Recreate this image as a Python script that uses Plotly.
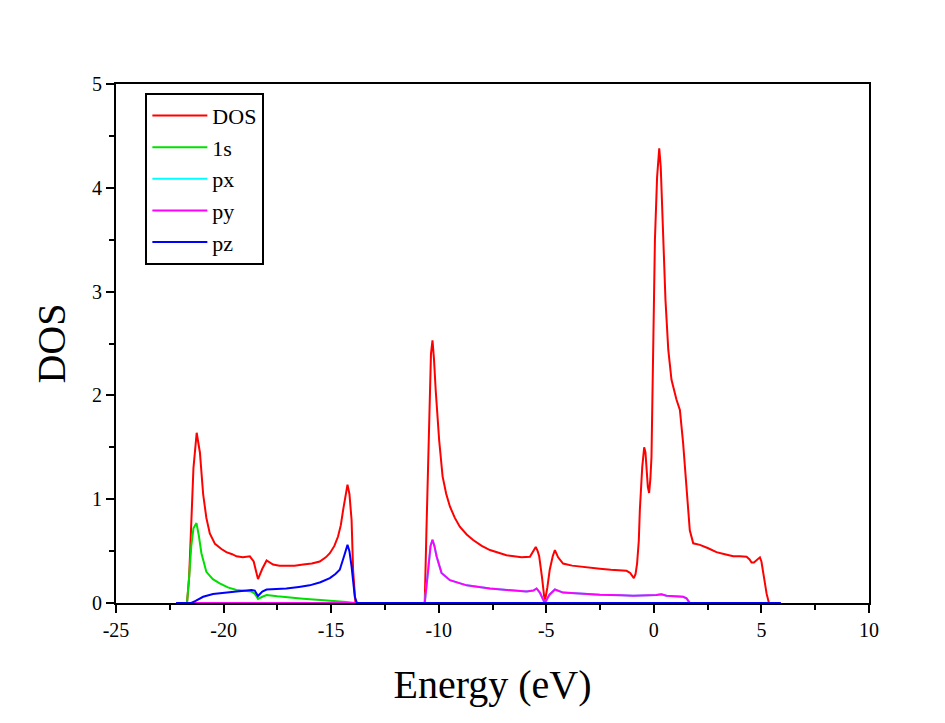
import plotly.graph_objects as go

# ---- Data ----
dos_x = [-22.2, -21.7, -21.6, -21.5, -21.4, -21.25, -21.1, -20.95, -20.8, -20.64, -20.4, -20.1, -19.87,
         -19.6, -19.4, -19.1, -18.78, -18.6, -18.4, -18.2, -18.0, -17.7, -17.4, -17.08, -16.7, -16.3,
         -15.9, -15.53, -15.25, -15.06, -14.85, -14.68, -14.55, -14.44, -14.32, -14.24, -14.15, -14.05,
         -13.98, -13.87, -13.8, -10.7, -10.65, -10.57, -10.45, -10.36, -10.29, -10.22, -10.14, -9.98, -9.82,
         -9.65, -9.48, -9.25, -9.02, -8.7, -8.4, -8.0, -7.62, -7.2, -6.85, -6.5, -6.15, -5.76, -5.6, -5.49,
         -5.4, -5.33, -5.2, -5.07, -4.95, -4.84, -4.7, -4.6, -4.45, -4.22, -3.8, -3.44, -3.0, -2.51, -2.0,
         -1.5, -1.27, -1.1, -1.04, -0.93, -0.85, -0.78, -0.7, -0.65, -0.54, -0.45, -0.39, -0.34, -0.28,
         -0.22, -0.16, -0.11, -0.07, -0.03, 0.05, 0.15, 0.25, 0.32, 0.4, 0.54, 0.67, 0.82, 1.05, 1.21,
         1.36, 1.52, 1.67, 1.83, 2.14, 2.5, 2.91, 3.3, 3.69, 4.0, 4.31, 4.45, 4.54, 4.65, 4.77, 4.93,
         5.0, 5.08, 5.16, 5.24, 5.35, 5.9]
dos_y = [0.0, 0.0, 0.25, 0.75, 1.3, 1.64, 1.45, 1.05, 0.82, 0.67, 0.57, 0.52, 0.49,
         0.47, 0.45, 0.44, 0.45, 0.4, 0.23, 0.33, 0.41, 0.37, 0.36, 0.36, 0.36, 0.37,
         0.38, 0.40, 0.44, 0.48, 0.55, 0.64, 0.75, 0.9, 1.05, 1.14, 1.05, 0.8,
         0.32, 0.0, 0.0, 0.0, 0.0, 0.7, 1.83, 2.4, 2.53, 2.35, 2.05, 1.57, 1.22,
         1.05, 0.93, 0.82, 0.735, 0.66, 0.607, 0.55, 0.51, 0.48, 0.46, 0.45, 0.44, 0.446, 0.5, 0.54,
         0.5, 0.45, 0.25, 0.01, 0.15, 0.32, 0.45, 0.51, 0.44, 0.38, 0.36, 0.35, 0.34, 0.33, 0.32,
         0.315, 0.31, 0.29, 0.27, 0.24, 0.28, 0.38, 0.6, 0.9, 1.31, 1.5, 1.45, 1.28, 1.12,
         1.06, 1.2, 1.41, 1.9, 2.37, 3.5, 4.1, 4.38, 4.2, 3.79, 2.92, 2.44, 2.15, 1.96, 1.86,
         1.54, 1.09, 0.70, 0.575, 0.56, 0.53, 0.49, 0.47, 0.45, 0.45, 0.446, 0.42, 0.39, 0.39, 0.41, 0.44,
         0.4, 0.29, 0.19, 0.09, 0.0, 0.0]

s_x = [-22.2, -21.7, -21.6, -21.5, -21.4, -21.26, -21.15, -21.03, -20.8, -20.5, -20.18, -19.8, -19.4,
       -19.0, -18.7, -18.55, -18.4, -18.2, -18.0, -17.5, -17.08, -16.3, -15.5, -14.8, -14.3, -13.9,
       5.9]
s_y = [0.0, 0.0, 0.25, 0.55, 0.72, 0.77, 0.65, 0.48, 0.30, 0.23, 0.19, 0.15, 0.125,
       0.115, 0.11, 0.09, 0.04, 0.06, 0.077, 0.065, 0.055, 0.042, 0.03, 0.02, 0.01, 0.0,
       0.0]

p_x = [-22.2, -10.7, -10.65, -10.49, -10.38, -10.29, -10.2, -10.1, -9.87, -9.48, -8.7, -7.62, -6.8,
       -5.92, -5.6, -5.45, -5.3, -5.07, -4.85, -4.6, -4.22, -3.4, -2.51, -1.5, -0.96, 0.12, 0.35,
       0.59, 1.36, 1.52, 1.67, 5.9]
p_y = [0.0, 0.0, 0.0, 0.32, 0.55, 0.61, 0.55, 0.45, 0.29, 0.22, 0.17, 0.14, 0.125,
       0.11, 0.12, 0.14, 0.1, 0.0, 0.08, 0.13, 0.1, 0.09, 0.08, 0.075, 0.07, 0.077, 0.085,
       0.07, 0.06, 0.045, 0.0, 0.0]

z_x = [-22.2, -21.5, -21.3, -21.1, -20.95, -20.49, -20.0, -19.4, -18.7, -18.55, -18.4, -18.2, -18.0,
       -17.5, -17.08, -16.5, -16.0, -15.5, -15.06, -14.8, -14.6, -14.4, -14.24, -14.15, -14.05,
       -13.9, -13.8, 5.9]
z_y = [0.0, 0.0, 0.02, 0.045, 0.06, 0.087, 0.1, 0.11, 0.125, 0.12, 0.067, 0.11, 0.13,
       0.135, 0.14, 0.155, 0.17, 0.2, 0.24, 0.28, 0.32, 0.45, 0.56, 0.5, 0.35,
       0.06, 0.0, 0.0]

series = [
    ("DOS", dos_x, dos_y, "#ff0000"),
    ("1s", s_x, s_y, "#00e000"),
    ("px", p_x, p_y, "#00ffff"),
    ("py", p_x, p_y, "#ff00ff"),
    ("pz", z_x, z_y, "#0000ff"),
]

x_ticks = [-25, -20, -15, -10, -5, 0, 5, 10]
y_ticks = [0, 1, 2, 3, 4, 5]

fig = go.Figure()
for name, xs, ys, col in series:
    fig.add_trace(go.Scatter(x=xs, y=ys, mode="lines", name=name,
                             line=dict(color=col, width=2)))

font_family = "Liberation Serif"
fig.update_layout(
    width=945, height=723,
    paper_bgcolor="white", plot_bgcolor="white",
    margin=dict(l=108, r=84, t=76, b=128),
    font=dict(family=font_family, color="black"),
    showlegend=True,
    legend=dict(x=0.039, y=0.983, xanchor="left", yanchor="top",
                bgcolor="white", bordercolor="black", borderwidth=2,
                font=dict(family=font_family, size=22, color="black"),
                tracegroupgap=0, itemwidth=55),
)
fig.update_xaxes(
    range=[-25, 10], tickvals=x_ticks, ticktext=[str(v) for v in x_ticks],
    showgrid=False, zeroline=False, showline=True, linecolor="black", linewidth=2,
    mirror=True, ticks="outside", ticklen=8, tickwidth=2, tickcolor="black",
    tickfont=dict(size=20, family=font_family),
    minor=dict(ticks="outside", ticklen=5, tickwidth=2, tickcolor="black", dtick=2.5, tick0=-25),
    title=dict(text="Energy (eV)", font=dict(size=40, family=font_family), standoff=30),
)
fig.update_yaxes(
    range=[0, 5], tickvals=y_ticks, ticktext=[str(v) for v in y_ticks],
    showgrid=False, zeroline=False, showline=True, linecolor="black", linewidth=2,
    mirror=True, ticks="outside", ticklen=8, tickwidth=2, tickcolor="black",
    tickfont=dict(size=20, family=font_family),
    minor=dict(ticks="outside", ticklen=5, tickwidth=2, tickcolor="black", dtick=0.5, tick0=0),
    title=dict(text="DOS", font=dict(size=40, family=font_family), standoff=14),
)

fig.write_html("out.html")
